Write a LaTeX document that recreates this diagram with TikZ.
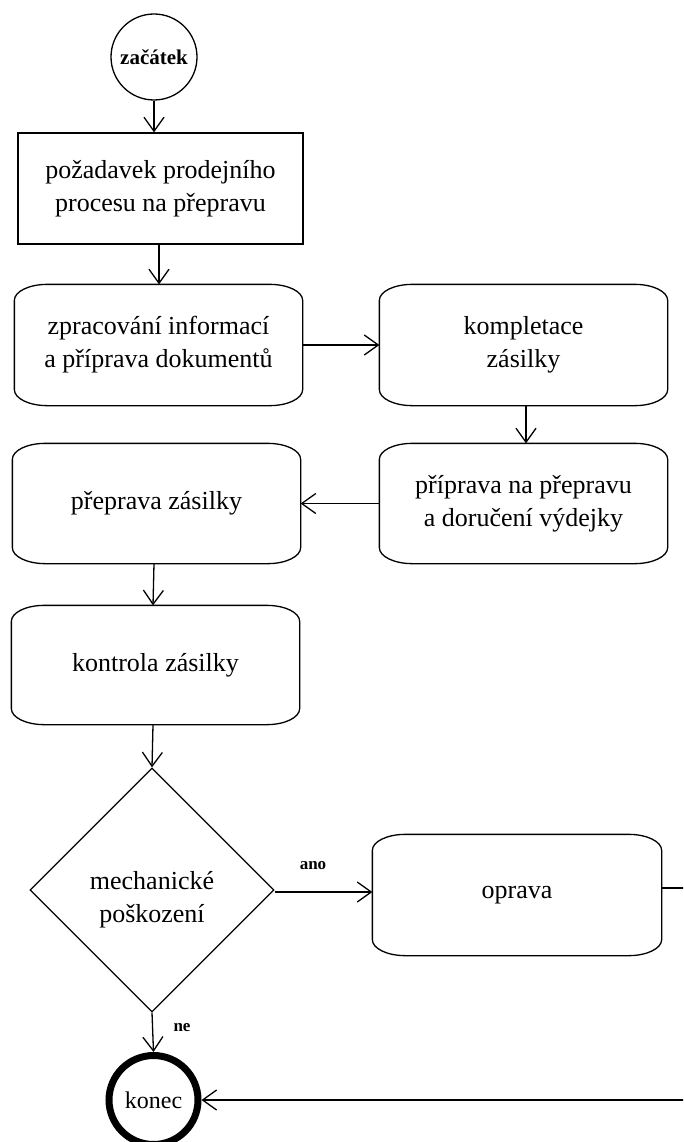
\documentclass[tikz,border=0pt]{standalone}
\usepackage{fontspec}
\setmainfont{Liberation Serif}
\usetikzlibrary{arrows.meta,shapes.geometric,calc}
\begin{document}
\begin{tikzpicture}[x=1pt,y=1pt,line width=1.3pt,
  every node/.style={align=center,inner sep=0pt,font=\fontsize{26}{33}\selectfont},
  flow/.style={-{Straight Barb[length=14pt,width=20pt]}},
  reqbox/.style={rectangle,draw,minimum width=285pt,minimum height=111pt},
  procbox/.style={rectangle,minimum width=287pt,minimum height=120pt},
  decision/.style={diamond,draw,minimum width=244pt,minimum height=244pt},
  startnode/.style={circle,draw,minimum size=86pt,font=\fontsize{21}{24}\selectfont\bfseries},
  endnode/.style={circle,draw,line width=7pt,minimum size=89pt,font=\fontsize{24}{26}\selectfont},
  branch/.style={font=\fontsize{17}{20}\selectfont\bfseries}]
\useasboundingbox (0,0) rectangle (683,-1142);
\clip (0,0) rectangle (683,-1142);

% nodes
\node[startnode] (start) at (154,-57) {začátek};
\node[reqbox] (req) at (160.5,-188.5) {požadavek prodejního\\procesu na přepravu};
\node[procbox] (zprac) at (158.5,-345) {zpracování informací\\a příprava dokumentů};
\node[procbox] (kompl) at (523.5,-345) {kompletace\\zásilky};
\node[procbox,minimum height=119pt] (prip) at (523.5,-503.5) {příprava na přepravu\\a doručení výdejky};
\node[procbox,minimum height=119pt] (prep) at (156.5,-503.5) {přeprava zásilky};
\node[procbox,minimum height=118pt] (kontr) at (155.5,-665) {kontrola zásilky};
\node[decision] (dec) at (152,-890) {};
\node (dectext) at (152,-900) {mechanické\\poškození};
\node[procbox,minimum width=288pt] (oprava) at (517,-895) {oprava};
\node[endnode] (konec) at (153.5,-1100) {konec};
\coordinate (loopR) at (700,-1000);

% rounded outlines of the process boxes
\foreach \b in {zprac,kompl,prip,prep,kontr,oprava}
  \draw let \p1=(\b.north west), \p2=(\b.south east) in
    (\x1,\y1-16pt) arc[start angle=180,end angle=90,x radius=33pt,y radius=16pt]
    -- (\x2-33pt,\y1) arc[start angle=90,end angle=0,x radius=33pt,y radius=16pt]
    -- (\x2,\y2+16pt) arc[start angle=0,end angle=-90,x radius=33pt,y radius=16pt]
    -- (\x1+33pt,\y2) arc[start angle=-90,end angle=-180,x radius=33pt,y radius=16pt]
    -- cycle;

% connectors
\draw[flow] (start.south) -- (start.south |- req.north);
\draw[flow] ($(req.south -| start)+(5,0)$) -- ($(zprac.north -| start)+(5,0)$);
\draw[flow] (zprac.east) -- (kompl.west);
\draw[flow] ($(kompl.south)+(2.5,0)$) -- ($(prip.north)+(2.5,0)$);
\draw[flow] (prip.west) -- (prep.east);
\draw[flow] ($(prep.south)+(-2.5,0)$) -- ($(kontr.north)+(-2.5,0)$);
\draw[flow] ($(kontr.south -| dec.north)+(1,0)$) -- (dec.north);
\draw[flow] ($(dec.east)+(0,-2)$) -- ($(dec.east -| oprava.west)+(0,-2)$);
\draw[flow] (dec.south) -- (konec.north);
\draw[flow] ($(oprava.east)+(0,7)$) -| (loopR) |- (konec.east);

% branch labels
\node[branch] (ano) at (313,-866) {ano};
\node[branch] (ne) at (182,-1028) {ne};
\end{tikzpicture}
\end{document}
